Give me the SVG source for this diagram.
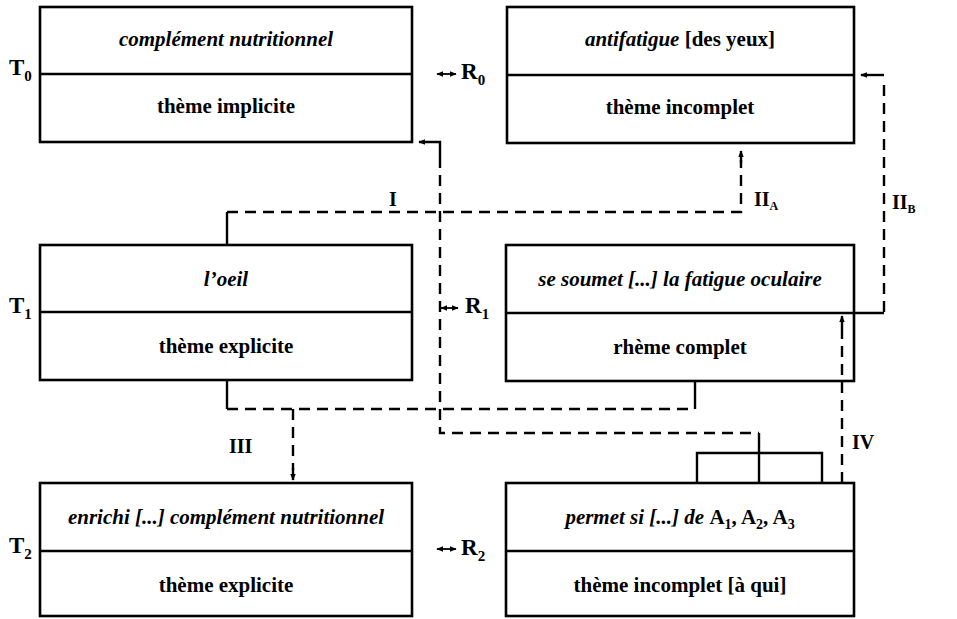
<svg xmlns="http://www.w3.org/2000/svg" width="957" height="619" viewBox="0 0 957 619">
<style>
  .box { fill: #fff; stroke: #000; stroke-width: 2.6; }
  .div { stroke: #000; stroke-width: 2.6; fill: none; }
  .t { font-family: "Liberation Serif", "Times New Roman", serif; font-weight: bold; font-size: 21px; fill: #000; text-anchor: middle; }
  .i { font-style: italic; }
  .lab { font-family: "Liberation Serif", "Times New Roman", serif; font-weight: bold; font-size: 23px; fill: #000; }
  .rl { font-family: "Liberation Serif", "Times New Roman", serif; font-weight: bold; font-size: 20px; fill: #000; }
  .solid { stroke: #000; stroke-width: 2.4; fill: none; }
  .dash { stroke: #000; stroke-width: 2.4; fill: none; stroke-dasharray: 11 7; }
  .dbl { stroke: #000; stroke-width: 1.8; fill: none; }
</style>
<defs>
  <marker id="ah" viewBox="0 0 10 10" refX="9" refY="5" markerWidth="7" markerHeight="7" markerUnits="userSpaceOnUse" orient="auto-start-reverse">
    <path d="M0,1 L10,5 L0,9 z" fill="#000"/>
  </marker>
</defs>

<g id="T0">
  <rect class="box" x="40" y="7" width="372" height="135"/>
  <line class="div" x1="40" y1="74" x2="412" y2="74"/>
  <text class="t i" x="226" y="46">complément nutritionnel</text>
  <text class="t" x="226" y="113">thème implicite</text>
  <text class="lab" x="9" y="75">T<tspan font-size="15" dy="6">0</tspan></text>
</g>
<g id="R0">
  <rect class="box" x="507" y="7" width="347" height="136"/>
  <line class="div" x1="507" y1="75" x2="854" y2="75"/>
  <text class="t" x="680" y="46"><tspan class="i">antifatigue</tspan> [des yeux]</text>
  <text class="t" x="680" y="114">thème incomplet</text>
  <line class="dbl" x1="437" y1="74" x2="456" y2="74" marker-start="url(#ah)" marker-end="url(#ah)"/>
  <text class="lab" x="461" y="79">R<tspan font-size="15" dy="6">0</tspan></text>
</g>
<g id="T1">
  <rect class="box" x="40" y="245" width="372" height="135"/>
  <line class="div" x1="40" y1="312" x2="412" y2="312"/>
  <text class="t i" x="226" y="286">l’oeil</text>
  <text class="t" x="226" y="353">thème explicite</text>
  <text class="lab" x="9" y="313">T<tspan font-size="15" dy="6">1</tspan></text>
</g>
<g id="R1">
  <rect class="box" x="506" y="245" width="348" height="136"/>
  <line class="div" x1="506" y1="313" x2="884" y2="313"/>
  <text class="t i" x="680" y="286">se soumet [...] la fatigue oculaire</text>
  <text class="t" x="680" y="354">rhème complet</text>
  <line class="dbl" x1="441" y1="308" x2="458" y2="308" marker-start="url(#ah)" marker-end="url(#ah)"/>
  <text class="lab" x="465" y="313">R<tspan font-size="15" dy="6">1</tspan></text>
</g>
<g id="T2">
  <rect class="box" x="40" y="483" width="372" height="133"/>
  <line class="div" x1="40" y1="551" x2="412" y2="551"/>
  <text class="t i" x="226" y="524">enrichi [...] complément nutritionnel</text>
  <text class="t" x="226" y="592">thème explicite</text>
  <text class="lab" x="9" y="553">T<tspan font-size="15" dy="6">2</tspan></text>
</g>
<g id="R2">
  <rect class="box" x="506" y="483" width="348" height="133"/>
  <line class="div" x1="506" y1="551" x2="854" y2="551"/>
  <text class="t" x="680" y="524"><tspan class="i">permet si [...] de </tspan>A<tspan font-size="14" dy="5">1</tspan><tspan dy="-5">, A</tspan><tspan font-size="14" dy="5">2</tspan><tspan dy="-5">, A</tspan><tspan font-size="14" dy="5">3</tspan></text>
  <text class="t" x="680" y="592">thème incomplet [à qui]</text>
  <line class="dbl" x1="437" y1="549" x2="456" y2="549" marker-start="url(#ah)" marker-end="url(#ah)"/>
  <text class="lab" x="461" y="555">R<tspan font-size="15" dy="6">2</tspan></text>
</g>

<g id="connectors">
  <path class="solid" d="M227,245 V212"/>
  <path class="dash" d="M227,212 H741 V160"/>
  <path class="solid" d="M741,163 V151" marker-end="url(#ah)"/>
  <path class="solid" d="M440,157 V142 H419" marker-end="url(#ah)"/>
  <path class="dash" d="M440,157 V433 H759"/>
  <path class="solid" d="M759,433 V483"/>
  <path class="solid" d="M697,483 V453 H822 V483"/>
  <path class="solid" d="M227,380 V409"/>
  <path class="dash" d="M227,409 H695"/>
  <path class="solid" d="M695,409 V381"/>
  <path class="dash" d="M293,409 V470"/>
  <path class="solid" d="M293,468 V480" marker-end="url(#ah)"/>
  <path class="dash" d="M884,312 V82"/>
  <path class="solid" d="M884,75 H861" marker-end="url(#ah)"/>
  <path class="dash" d="M842,483 V327"/>
  <path class="solid" d="M842,328 V316" marker-end="url(#ah)"/>
</g>

<g id="labels">
  <text class="rl" x="389" y="206">I</text>
  <text class="rl" x="754" y="206">II<tspan font-size="12" dy="4">A</tspan></text>
  <text class="rl" x="892" y="209">II<tspan font-size="12" dy="4">B</tspan></text>
  <text class="rl" x="229" y="453">III</text>
  <text class="rl" x="852" y="449">IV</text>
</g>
</svg>
